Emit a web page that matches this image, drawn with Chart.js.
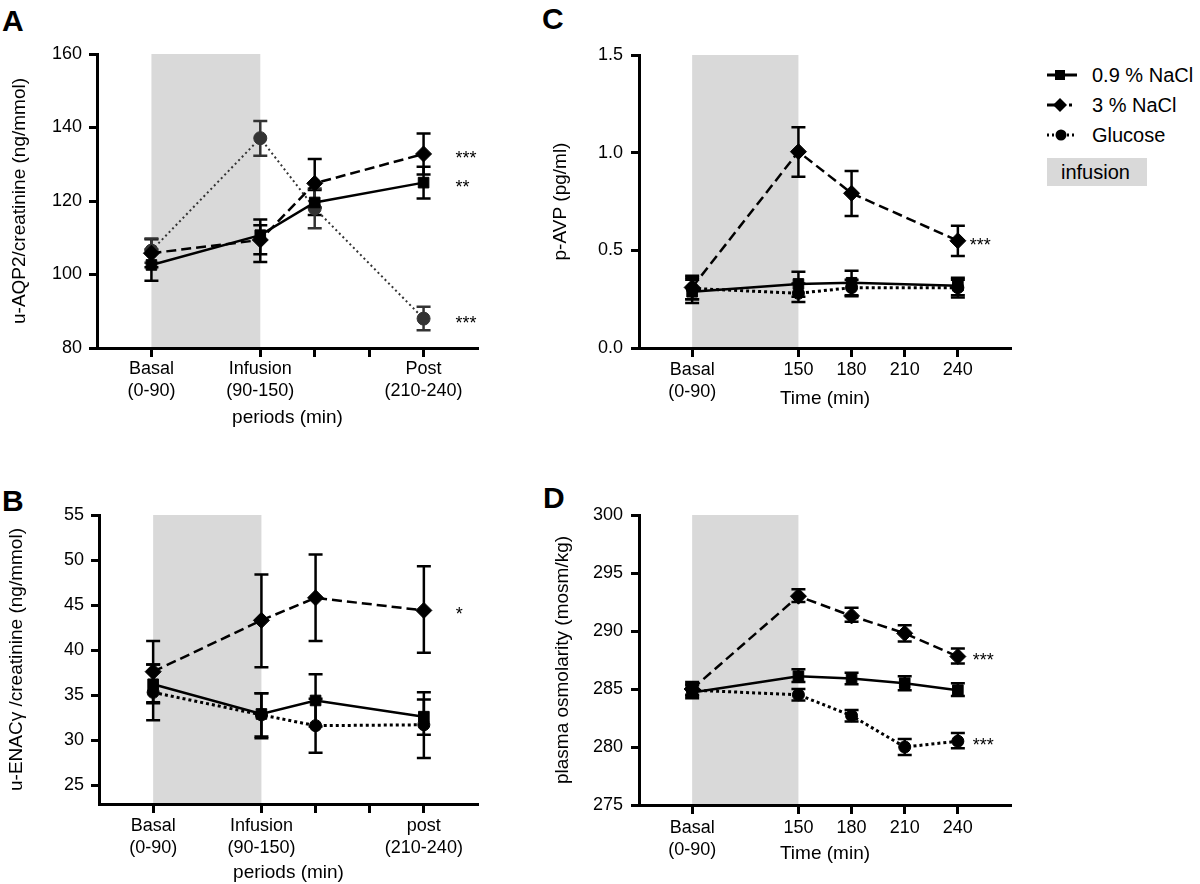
<!DOCTYPE html>
<html>
<head>
<meta charset="utf-8">
<script src="https://cdn.jsdelivr.net/npm/chart.js@4.4.1/dist/chart.umd.min.js"></script>
<style>
html, body { margin: 0; padding: 0; background: #fff; }
body { width: 1200px; height: 884px; position: relative; overflow: hidden; font-family: 'Liberation Sans', Arial, sans-serif; color: #000; }
canvas { position: absolute; }
.letter { position: absolute; font-weight: bold; font-size: 30px; line-height: 30px; }
.lg-text { position: absolute; left: 1092px; font-size: 20px; line-height: 24px; white-space: nowrap; }
.lg-icon { position: absolute; left: 1047px; }
</style>
</head>
<body>
<div class="letter" style="left:2px;top:6px;">A</div>
<div class="letter" style="left:2px;top:486px;">B</div>
<div class="letter" style="left:542px;top:4px;">C</div>
<div class="letter" style="left:543px;top:483px;">D</div>

<canvas id="chartA" width="500" height="440" style="left:0;top:0;"></canvas>
<canvas id="chartB" width="500" height="444" style="left:0;top:440px;"></canvas>
<canvas id="chartC" width="520" height="440" style="left:500px;top:0;"></canvas>
<canvas id="chartD" width="520" height="444" style="left:500px;top:440px;"></canvas>

<!-- legend (panel C) -->
<svg class="lg-icon" style="top:68px;" width="30" height="14">
  <line x1="0" y1="7" x2="30" y2="7" stroke="#000" stroke-width="3"/>
  <rect x="8" y="2" width="10" height="10" fill="#000"/>
</svg>
<div class="lg-text" style="top:63px;">0.9 % NaCl</div>
<svg class="lg-icon" style="top:98px;" width="30" height="14">
  <line x1="0" y1="7" x2="9" y2="7" stroke="#000" stroke-width="3"/>
  <polygon points="13,0 20,7 13,14 6,7" fill="#000"/>
  <line x1="22" y1="7" x2="25" y2="7" stroke="#000" stroke-width="3"/>
</svg>
<div class="lg-text" style="top:93px;">3 % NaCl</div>
<svg class="lg-icon" style="top:128px;" width="30" height="14">
  <line x1="0" y1="7" x2="30" y2="7" stroke="#000" stroke-width="3" stroke-dasharray="2,3"/>
  <circle cx="14" cy="7" r="5.5" fill="#000"/>
</svg>
<div class="lg-text" style="top:123px;">Glucose</div>
<div style="position:absolute;left:1047px;top:158px;width:100px;height:28px;background:#d9d9d9;"></div>
<div class="lg-text" style="top:160px;left:1061px;">infusion</div>

<script>
// ---- tick labels ----
const periodTicks = [90, 150, 180, 210, 240];
const periodLabelsA = [['Basal', '(0-90)'], ['Infusion', '(90-150)'], '', '', ['Post', '(210-240)']];
const periodLabelsB = [['Basal', '(0-90)'], ['Infusion', '(90-150)'], '', '', ['post', '(210-240)']];
const timeTicks = [90, 150, 180, 210, 240];
const timeLabels = [['Basal', '(0-90)'], '150', '180', '210', '240'];

// ---- A: u-AQP2/creatinine ----
const aqpX = [90, 150, 180, 240];
const aqpNaCl09 = [102.6, 110.7, 119.6, 125.0];
const aqpNaCl09Lo = [98.3, 103.4, 116.2, 120.7];
const aqpNaCl09Hi = [106.8, 115.0, 123.0, 129.3];
const aqpNaCl3 = [105.8, 109.4, 124.8, 132.8];
const aqpNaCl3Lo = [102.0, 105.5, 118.2, 127.2];
const aqpNaCl3Hi = [109.6, 113.4, 131.4, 138.4];
const aqpGlucose = [106.5, 137.1, 118.0, 88.0];
const aqpGlucoseLo = [103.2, 132.3, 112.6, 84.8];
const aqpGlucoseHi = [109.8, 141.8, 123.4, 91.2];

// ---- B: u-ENaCγ/creatinine ----
const enacX = [90, 150, 180, 240];
const enacNaCl09 = [36.2, 32.9, 34.4, 32.6];
const enacNaCl09Lo = [34.1, 30.4, 31.5, 30.6];
const enacNaCl09Hi = [38.4, 35.2, 37.3, 34.5];
const enacNaCl3 = [37.6, 43.3, 45.8, 44.4];
const enacNaCl3Lo = [34.2, 38.1, 41.0, 39.7];
const enacNaCl3Hi = [41.0, 48.4, 50.6, 49.3];
const enacGlucose = [35.3, 32.8, 31.6, 31.7];
const enacGlucoseLo = [32.2, 30.2, 28.6, 28.0];
const enacGlucoseHi = [38.4, 35.2, 34.6, 35.3];

// ---- C: p-AVP ----
const avpX = [90, 150, 180, 240];
const avpNaCl09 = [0.288, 0.328, 0.334, 0.319];
const avpNaCl09Lo = [0.23, 0.263, 0.27, 0.258];
const avpNaCl09Hi = [0.35, 0.39, 0.396, 0.36];
const avpNaCl3 = [0.31, 1.005, 0.792, 0.549];
const avpNaCl3Lo = [0.25, 0.877, 0.676, 0.471];
const avpNaCl3Hi = [0.37, 1.13, 0.906, 0.626];
const avpGlucose = [0.305, 0.28, 0.309, 0.309];
const avpGlucoseLo = [0.25, 0.235, 0.265, 0.27];
const avpGlucoseHi = [0.36, 0.33, 0.35, 0.35];

// ---- D: plasma osmolarity ----
const osmX = [90, 150, 180, 210, 240];
const osmNaCl09 = [284.7, 286.1, 285.9, 285.5, 284.9];
const osmNaCl09Lo = [284.2, 285.6, 285.4, 284.9, 284.4];
const osmNaCl09Hi = [285.3, 286.7, 286.4, 286.1, 285.5];
const osmNaCl3 = [285.0, 293.0, 291.3, 289.8, 287.8];
const osmNaCl3Lo = [284.5, 292.5, 290.8, 289.1, 287.2];
const osmNaCl3Hi = [285.6, 293.6, 292.0, 290.5, 288.5];
const osmGlucose = [284.9, 284.5, 282.7, 280.0, 280.5];
const osmGlucoseLo = [284.4, 284.0, 282.2, 279.3, 279.9];
const osmGlucoseHi = [285.4, 285.0, 283.2, 280.7, 281.2];

const FONT = "'Liberation Sans', Arial, Helvetica, sans-serif";
Chart.defaults.font.family = FONT;
Chart.defaults.color = '#000';

// grey infusion band, drawn before the axes
const bandPlugin = {
    id: 'infusionBand',
    beforeDraw(chart, args, opts) {
        const { ctx, chartArea, scales } = chart;
        const x0 = scales.x.getPixelForValue(opts.from);
        const x1 = scales.x.getPixelForValue(opts.to);
        ctx.save();
        ctx.fillStyle = opts.color;
        ctx.fillRect(x0, chartArea.top, x1 - x0, chartArea.bottom - chartArea.top);
        ctx.restore();
    }
};

// vertical error bars with caps
const errorBarPlugin = {
    id: 'errorBars',
    beforeDatasetsDraw(chart, args, opts) {
        const { ctx, scales } = chart;
        chart.data.datasets.forEach((ds, i) => {
            if (!ds.errLo) return;
            const meta = chart.getDatasetMeta(i);
            ctx.save();
            ctx.strokeStyle = ds.borderColor;
            ctx.lineWidth = opts.width;
            ctx.setLineDash([]);
            meta.data.forEach((pt, j) => {
                const yLo = scales.y.getPixelForValue(ds.errLo[j]);
                const yHi = scales.y.getPixelForValue(ds.errHi[j]);
                const c = opts.cap;
                ctx.beginPath();
                ctx.moveTo(pt.x, yLo); ctx.lineTo(pt.x, yHi);
                ctx.moveTo(pt.x - c, yLo); ctx.lineTo(pt.x + c, yLo);
                ctx.moveTo(pt.x - c, yHi); ctx.lineTo(pt.x + c, yHi);
                ctx.stroke();
            });
            ctx.restore();
        });
    }
};

// significance stars next to the last point of a series
const starsPlugin = {
    id: 'stars',
    afterDatasetsDraw(chart, args, opts) {
        const { ctx } = chart;
        ctx.save();
        ctx.font = '18px ' + FONT;
        ctx.fillStyle = '#000';
        ctx.textAlign = 'left';
        ctx.textBaseline = 'middle';
        (opts.items || []).forEach(s => {
            const pt = chart.getDatasetMeta(s.ds).data[s.idx];
            ctx.fillText(s.text, pt.x + opts.dx, pt.y + 5);
        });
        ctx.restore();
    }
};

function series(label, xs, ys, lo, hi, style) {
    return Object.assign({
        label: label,
        data: xs.map((x, i) => ({ x: x, y: ys[i] })),
        errLo: lo,
        errHi: hi,
        borderColor: '#000',
        backgroundColor: '#000',
        pointBorderWidth: 1,
        borderWidth: 2.5,
        tension: 0,
        fill: false
    }, style);
}

const styleNaCl09 = { pointStyle: 'rect', pointRadius: 7.5, borderDash: [] };
const styleNaCl3 = { pointStyle: 'rectRot', pointRadius: 8, borderDash: [10, 5] };
const styleGlucose = { pointStyle: 'circle', pointRadius: 6, borderDash: [3, 3], borderWidth: 3 };
const styleGlucoseA = { pointStyle: 'circle', pointRadius: 6.5, borderDash: [2, 3], borderWidth: 2,
    borderColor: '#333', backgroundColor: '#333' };

function axisCommon(tickLen) {
    return {
        border: { display: true, color: '#000', width: 3 },
        grid: { display: true, drawOnChartArea: false, drawTicks: true, tickLength: tickLen,
                tickWidth: 3, tickColor: '#000' }
    };
}

function makePanel(id, p) {
    const xLabelMap = {};
    p.xTicks.forEach((v, i) => { xLabelMap[v] = p.xLabels[i]; });
    new Chart(document.getElementById(id), {
        type: 'line',
        data: { datasets: p.datasets },
        plugins: [bandPlugin, errorBarPlugin, starsPlugin],
        options: {
            responsive: false,
            animation: false,
            devicePixelRatio: 1,
            layout: { padding: p.padding },
            plugins: {
                legend: { display: false },
                tooltip: { enabled: false },
                infusionBand: { from: 90, to: 150, color: '#d9d9d9' },
                errorBars: { width: 2.5, cap: 7 },
                stars: { items: p.stars, dx: p.starDx }
            },
            scales: {
                x: Object.assign(axisCommon(9), {
                    type: 'linear',
                    min: 60, max: 270,
                    afterBuildTicks: s => { s.ticks = p.xTicks.map(v => ({ value: v })); },
                    afterFit: s => { s.height = p.xHeight; },
                    ticks: {
                        autoSkip: false, maxRotation: 0, padding: p.xTickPad,
                        font: { size: 18, lineHeight: 1.17 },
                        callback: v => xLabelMap[v]
                    },
                    title: { display: true, text: p.xTitle, font: { size: 19 },
                             padding: { top: 0, bottom: p.xTitlePad } }
                }),
                y: Object.assign(axisCommon(8), {
                    type: 'linear',
                    min: p.yMin, max: p.yMax,
                    afterBuildTicks: s => { s.ticks = p.yTicks.map(v => ({ value: v })); },
                    afterFit: s => { s.width = p.yWidth; },
                    ticks: {
                        padding: p.yTickPad,
                        font: { size: 18 },
                        callback: v => p.yFmt ? v.toFixed(p.yFmt) : String(v)
                    },
                    title: { display: true, text: p.yTitle, font: { size: 19 },
                             padding: { top: p.yTitlePad, bottom: 0 } }
                })
            }
        }
    });
}

makePanel('chartA', {
    datasets: [
        series('0.9 % NaCl', aqpX, aqpNaCl09, aqpNaCl09Lo, aqpNaCl09Hi, styleNaCl09),
        series('3 % NaCl', aqpX, aqpNaCl3, aqpNaCl3Lo, aqpNaCl3Hi, styleNaCl3),
        series('Glucose', aqpX, aqpGlucose, aqpGlucoseLo, aqpGlucoseHi, styleGlucoseA)
    ],
    xTicks: periodTicks, xLabels: periodLabelsA, xTitle: 'periods (min)',
    yMin: 80, yMax: 160, yTicks: [80, 100, 120, 140, 160],
    yTitle: 'u-AQP2/creatinine (ng/mmol)',
    padding: { left: 5, top: 54, right: 22, bottom: 0 },
    yWidth: 92, xHeight: 92, xTitlePad: 11, xTickPad: 2, yTitlePad: 3, yTickPad: 7,
    stars: [{ ds: 1, idx: 3, text: '***' }, { ds: 0, idx: 3, text: '**' }, { ds: 2, idx: 3, text: '***' }],
    starDx: 32
});

makePanel('chartB', {
    datasets: [
        series('0.9 % NaCl', enacX, enacNaCl09, enacNaCl09Lo, enacNaCl09Hi, styleNaCl09),
        series('3 % NaCl', enacX, enacNaCl3, enacNaCl3Lo, enacNaCl3Hi, styleNaCl3),
        series('Glucose', enacX, enacGlucose, enacGlucoseLo, enacGlucoseHi, styleGlucose)
    ],
    xTicks: periodTicks, xLabels: periodLabelsB, xTitle: 'periods (min)',
    yMin: 22.9, yMax: 55, yTicks: [25, 30, 35, 40, 45, 50, 55],
    yTitle: 'u-ENACγ /creatinine (ng/mmol)',
    padding: { left: 5, top: 75, right: 22, bottom: 0 },
    yWidth: 94, xHeight: 80, xTitlePad: 0, xTickPad: 3, yTitlePad: 0, yTickPad: 7,
    stars: [{ ds: 1, idx: 3, text: '*' }],
    starDx: 32
});

makePanel('chartC', {
    datasets: [
        series('0.9 % NaCl', avpX, avpNaCl09, avpNaCl09Lo, avpNaCl09Hi, styleNaCl09),
        series('3 % NaCl', avpX, avpNaCl3, avpNaCl3Lo, avpNaCl3Hi, styleNaCl3),
        series('Glucose', avpX, avpGlucose, avpGlucoseLo, avpGlucoseHi, styleGlucose)
    ],
    xTicks: timeTicks, xLabels: timeLabels, xTitle: 'Time (min)',
    yMin: 0, yMax: 1.5, yTicks: [0, 0.5, 1.0, 1.5], yFmt: 1,
    yTitle: 'p-AVP (pg/ml)',
    padding: { left: 48, top: 55, right: 3, bottom: 0 },
    yWidth: 91, xHeight: 92, xTitlePad: 30, xTickPad: 3, yTitlePad: 1, yTickPad: 8,
    stars: [{ ds: 1, idx: 3, text: '***' }],
    starDx: 12
});

makePanel('chartD', {
    datasets: [
        series('0.9 % NaCl', osmX, osmNaCl09, osmNaCl09Lo, osmNaCl09Hi, styleNaCl09),
        series('3 % NaCl', osmX, osmNaCl3, osmNaCl3Lo, osmNaCl3Hi, styleNaCl3),
        series('Glucose', osmX, osmGlucose, osmGlucoseLo, osmGlucoseHi, styleGlucose)
    ],
    xTicks: timeTicks, xLabels: timeLabels, xTitle: 'Time (min)',
    yMin: 275, yMax: 300, yTicks: [275, 280, 285, 290, 295, 300],
    yTitle: 'plasma osmolarity (mosm/kg)',
    padding: { left: 48, top: 75, right: 3, bottom: 0 },
    yWidth: 91, xHeight: 79, xTitlePad: 19, xTickPad: 4, yTitlePad: 3, yTickPad: 8,
    stars: [{ ds: 1, idx: 4, text: '***' }, { ds: 2, idx: 4, text: '***' }],
    starDx: 15
});
</script>
</body>
</html>
